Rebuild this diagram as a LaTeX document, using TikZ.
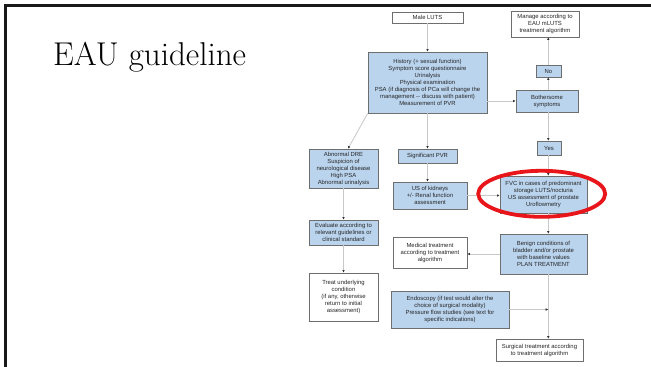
\documentclass[tikz,border=0pt]{standalone}
\usepackage{fontspec}
\setmainfont{Latin Modern Roman}
\newfontfamily\diagfont{Liberation Sans}
\usetikzlibrary{arrows.meta}
\definecolor{boxblue}{RGB}{186,212,238}
\definecolor{boxline}{RGB}{110,110,110}
\definecolor{conn}{RGB}{200,200,200}
\definecolor{ringred}{RGB}{232,22,26}
\begin{document}
\begin{tikzpicture}[x=1pt,y=-1pt,
  base/.style={draw=boxline,line width=0.6pt,inner sep=0pt,align=center,
    font=\diagfont\fontsize{5.9}{7}\selectfont,text=black!85},
  bluebox/.style={base,fill=boxblue},
  whitebox/.style={base,fill=white},
  conline/.style={draw=conn,line width=0.8pt},
  arr/.style={conline,-{Latex[length=2.6pt,width=2.6pt,color=black!80]}}
]
\useasboundingbox (0,0) rectangle (651,367);
\fill[white] (0,0) rectangle (651,367);
% slide frame
\draw[black!90,line width=3.2pt] (4,5.3) -- (651,5.3);
\draw[black!90,line width=3pt] (5.5,4) -- (5.5,367);
% title
\node[anchor=base west,inner sep=0pt,font=\fontsize{33}{38}\selectfont] (title) at (53,65) {EAU guideline};
% boxes
\node[whitebox,minimum width=71,minimum height=11] (male) at (427.5,17.5) {Male LUTS};
\node[whitebox,minimum width=68,minimum height=26] (manage) at (545,24) {Manage according to\\EAU mLUTS\\treatment algorithm};
\node[bluebox,minimum width=119,minimum height=61] (history) at (427.5,82.5) {History (+ sexual function)\\Symptom score questionnaire\\Urinalysis\\Physical examination\\PSA (if diagnosis of PCa will change the\\management -- discuss with patient)\\Measurement of PVR};
\node[bluebox,minimum width=25,minimum height=12] (no) at (548.5,71) {No};
\node[bluebox,minimum width=62,minimum height=22] (bother) at (547,101) {Bothersome\\symptoms};
\node[bluebox,minimum width=24,minimum height=14] (yes) at (549,148) {Yes};
\node[bluebox,minimum width=69,minimum height=39] (abn) at (343.5,168.5) {Abnormal DRE\\Suspicion of\\neurological disease\\High PSA\\Abnormal urinalysis};
\node[bluebox,minimum width=59,minimum height=14] (spvr) at (427.5,156) {Significant PVR};
\node[bluebox,minimum width=74,minimum height=27] (uskid) at (430,195.5) {US of kidneys\\+/- Renal function\\assessment};
\node[bluebox,minimum width=87,minimum height=37] (fvc) at (543.5,194.5) {FVC in cases of predominant\\storage LUTS/nocturia\\US assessment of prostate\\Uroflowmetry};
\node[bluebox,minimum width=69,minimum height=25] (eval) at (343.5,232.5) {Evaluate according to\\relevant guidelines or\\clinical standard};
\node[whitebox,minimum width=74,minimum height=31] (med) at (430,252.5) {Medical treatment\\according to treatment\\algorithm};
\node[bluebox,minimum width=87,minimum height=40] (benign) at (543.5,254) {Benign conditions of\\bladder and/or prostate\\with baseline values\\PLAN TREATMENT};
\node[whitebox,minimum width=69,minimum height=48] (treat) at (343.5,297) {Treat underlying\\condition\\(if any, otherwise\\return to initial\\assessment)};
\node[bluebox,minimum width=118,minimum height=37] (endo) at (450,309.5) {Endoscopy (if test would alter the\\choice of surgical modality)\\Pressure flow studies (see text for\\specific indications)};
\node[whitebox,minimum width=87,minimum height=22] (surg) at (539.5,350) {Surgical treatment according\\to treatment algorithm};
% spine coordinate
\coordinate (spine) at (548.3,0);
\coordinate (endojoin) at (spine |- endo.east);
% connectors
\draw[arr] (male.south) -- (history.north);
\draw[arr] (bother.west -| history.east) -- (bother.west);
\draw[arr] (no.north -| spine) -- (manage.south -| spine);
\draw[arr] (bother.north -| spine) -- (no.south -| spine);
\draw[arr] (bother.south -| spine) -- (yes.north -| spine);
\draw[arr] (yes.south -| spine) -- (fvc.north -| spine);
\draw[arr] (fvc.south -| spine) -- (benign.north -| spine);
\draw[arr] (benign.south -| spine) -- (surg.north -| spine);
\draw[arr] (endo.east) -- (endojoin);
\draw[arr] (benign.west) -- (benign.west -| med.east);
\draw[arr] (history.south) -- (spvr.north);
\draw[arr] (spvr.south) -- (spvr.south |- uskid.north);
\draw[arr] (uskid.east) -- (uskid.east -| fvc.west);
\draw[arr] (history.south west) -- ([xshift=4.5pt]abn.north);
\draw[arr] (abn.south) -- (eval.north);
\draw[arr] (eval.south) -- (treat.north);
% red ring
\draw[ringred,line width=3.8pt] (541.7,193.8) ellipse [x radius=63.5, y radius=23];
\end{tikzpicture}
\end{document}
